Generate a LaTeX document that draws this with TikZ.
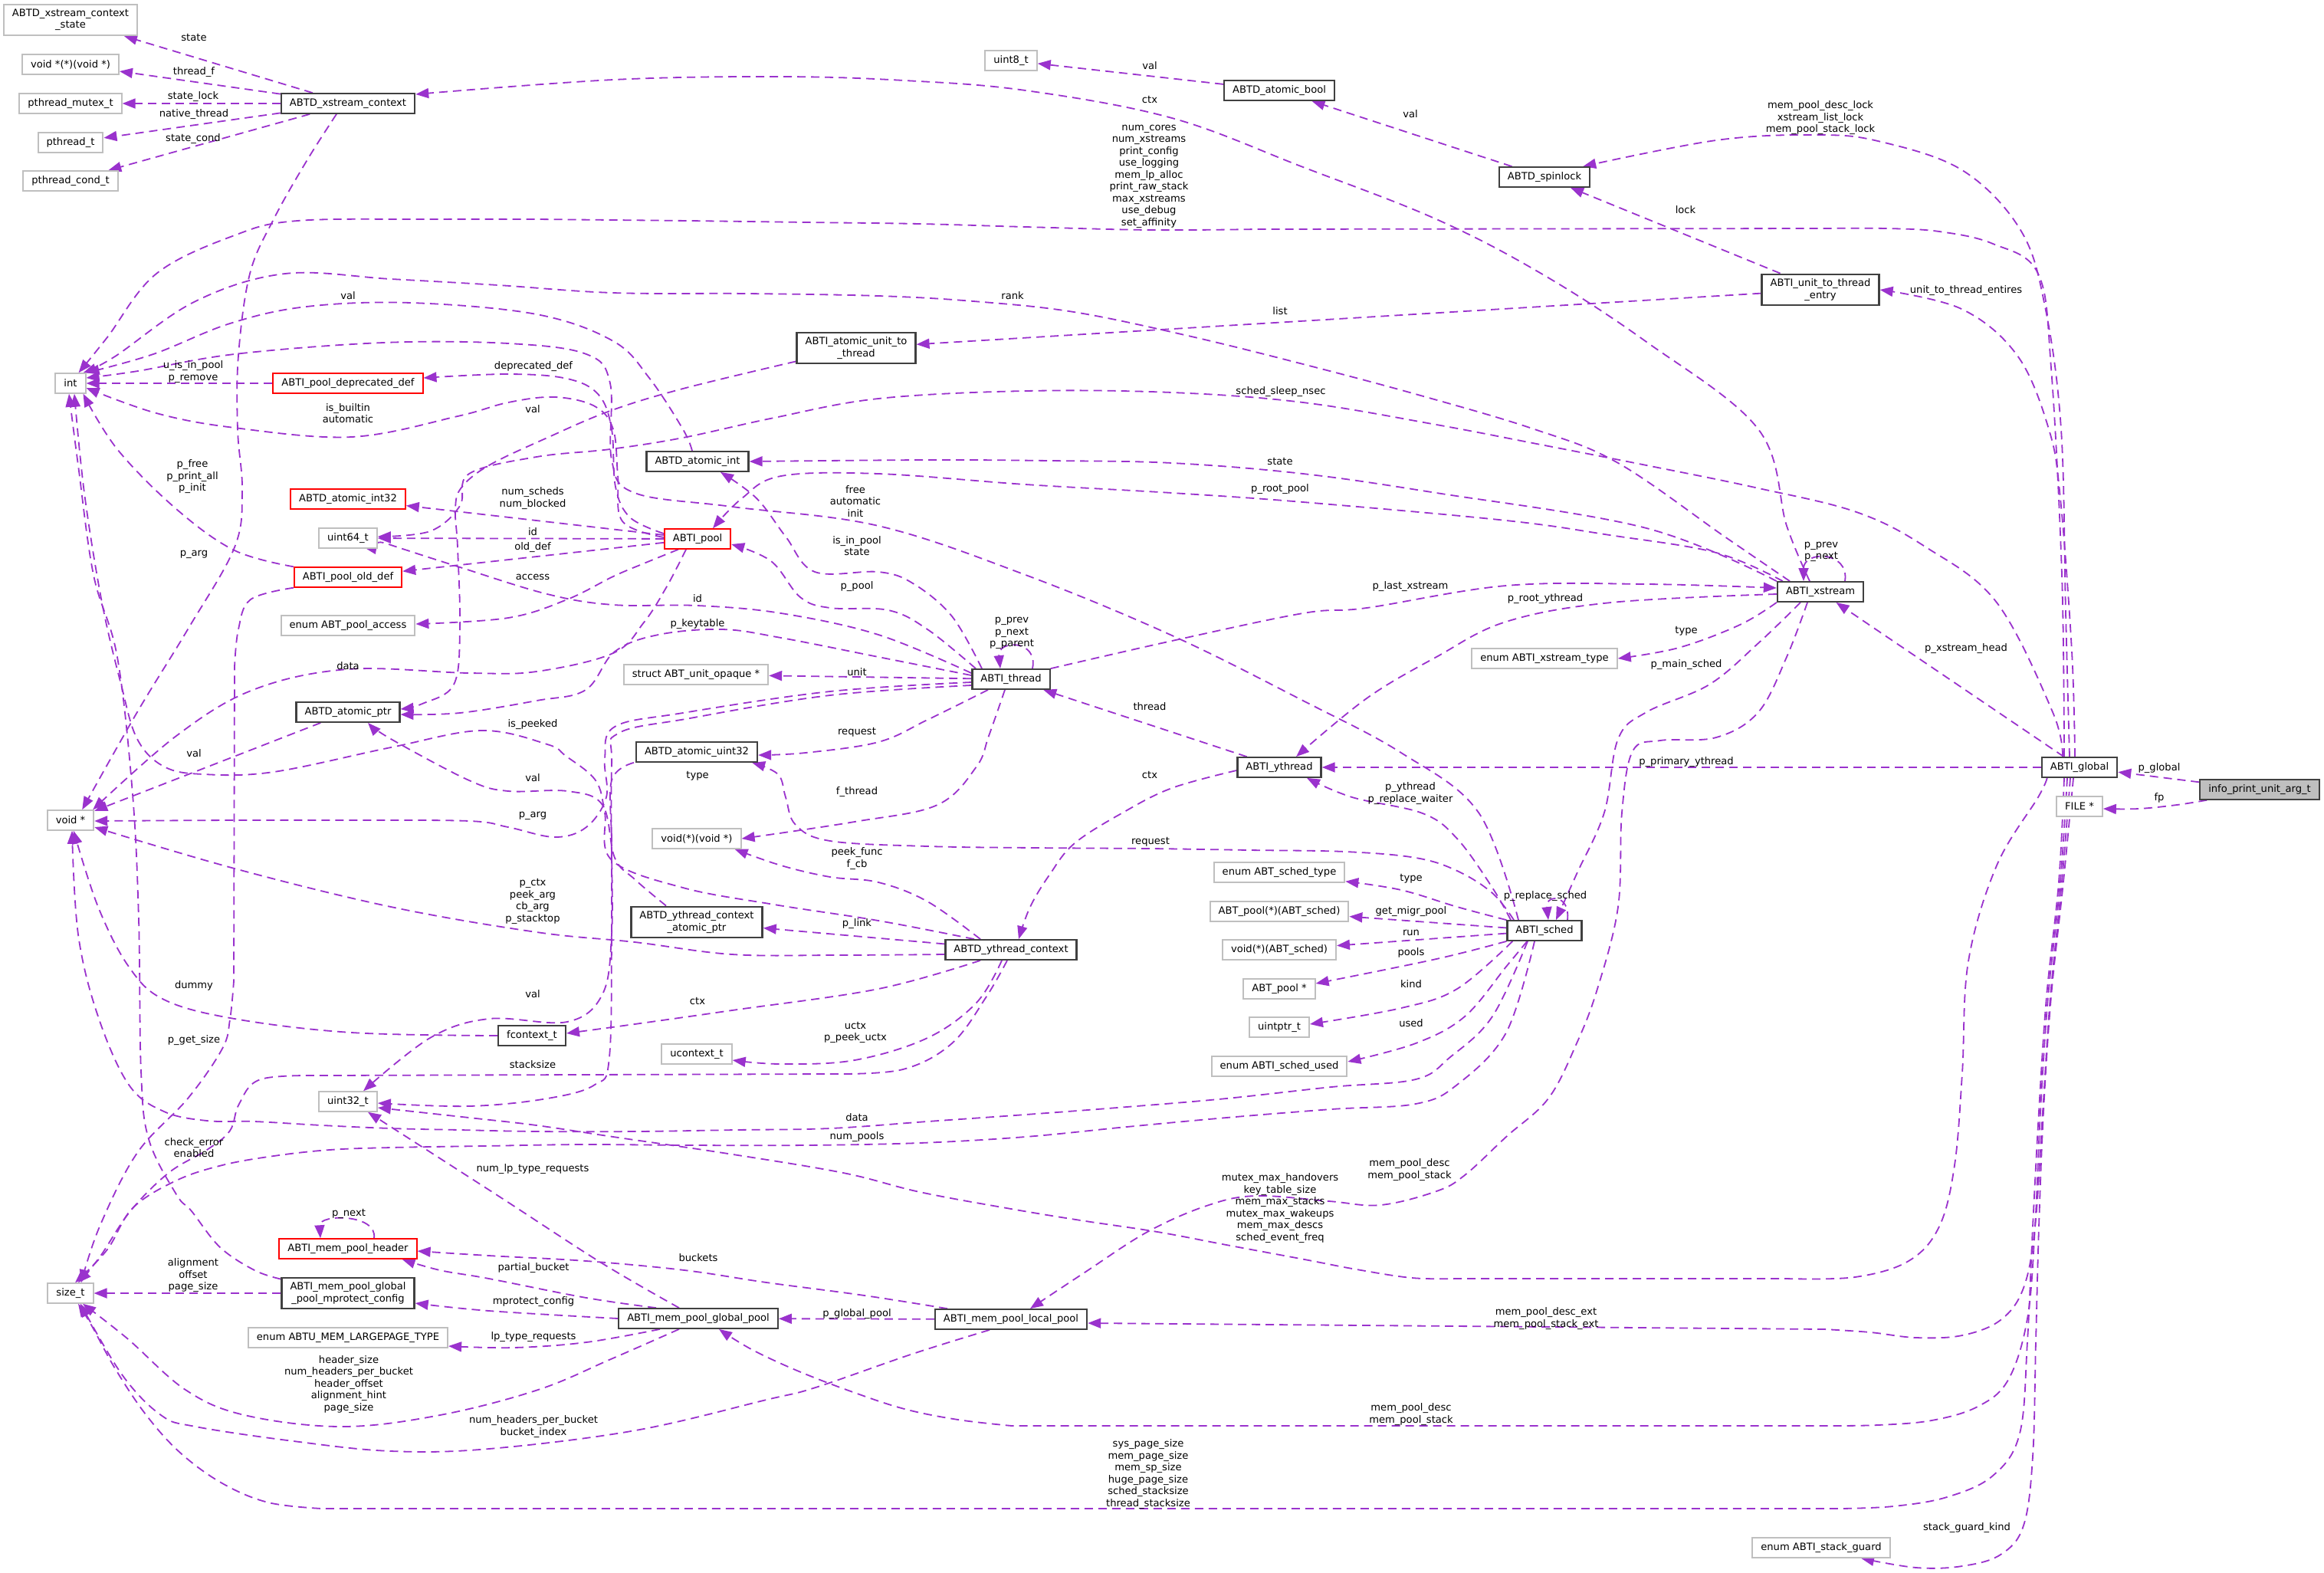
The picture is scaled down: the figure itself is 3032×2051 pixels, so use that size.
\documentclass[tikz,border=0pt]{standalone}
\usepackage{fontspec}
\setmainfont{DejaVu Sans}
\usetikzlibrary{arrows.meta, backgrounds}
\definecolor{edgePurple}{HTML}{9A32CD}
\definecolor{boxGray}{HTML}{BFBFBF}
\definecolor{boxRed}{HTML}{FF0000}
\definecolor{rootGray}{HTML}{BFBFBF}
\newcommand\dxsize{\fontsize{13.1pt}{15.5pt}\selectfont}

\begin{document}
\begin{tikzpicture}[
    x=1pt, y=-1pt,
    anybox/.style={rectangle, line width=2pt, inner xsep=11pt, inner ysep=6pt,
                   minimum height=25.5pt, align=center, fill=white, font=\dxsize},
    typebox/.style={anybox, draw=boxGray},
    classbox/.style={anybox, draw=black!75, line width=2.3pt},
    redbox/.style={anybox, draw=boxRed},
    rootbox/.style={anybox, draw=black!75, fill=rootGray},
    memlbl/.style={inner sep=0pt, align=center, font=\dxsize},
    member/.style={draw=edgePurple, line width=1.8pt, dash pattern=on 11pt off 7pt,
                   -{Triangle[length=17pt, width=13pt]}, smooth, tension=0.6},
  ]
  \useasboundingbox (0,0) rectangle (3032,2051);

  % column 1
  \node[typebox] (xcs) at (92,26)   {ABTD\_xstream\_context\\\_state};
  \node[typebox] (vff) at (92,84)   {void *(*)(void *)};
  \node[typebox] (ptm) at (92,135)  {pthread\_mutex\_t};
  \node[typebox] (pt)  at (92,186)  {pthread\_t};
  \node[typebox] (ptc) at (92,236)  {pthread\_cond\_t};
  \node[typebox] (int) at (92,500)  {int};
  \node[typebox] (vp)  at (92,1070) {void *};
  \node[typebox] (szt) at (92,1687) {size\_t};

  % column 2
  \node[classbox] (xc)     at (454,135)  {ABTD\_xstream\_context};
  \node[redbox]   (pdd)    at (454,500)  {ABTI\_pool\_deprecated\_def};
  \node[redbox]   (aint32) at (454,651)  {ABTD\_atomic\_int32};
  \node[typebox]  (u64)    at (454,702)  {uint64\_t};
  \node[redbox]   (pod)    at (454,753)  {ABTI\_pool\_old\_def};
  \node[typebox]  (epa)    at (454,816)  {enum ABT\_pool\_access};
  \node[classbox] (aptr)   at (454,929)  {ABTD\_atomic\_ptr};
  \node[classbox] (fctx)   at (694,1351) {fcontext\_t};
  \node[typebox]  (u32)    at (454,1437) {uint32\_t};
  \node[redbox]   (mph)    at (454,1629) {ABTI\_mem\_pool\_header};
  \node[classbox] (mpc)    at (454,1687) {ABTI\_mem\_pool\_global\\\_pool\_mprotect\_config};
  \node[typebox]  (elp)    at (454,1745) {enum ABTU\_MEM\_LARGEPAGE\_TYPE};

  % column 3
  \node[classbox] (aint) at (910,602)  {ABTD\_atomic\_int};
  \node[redbox]   (pool) at (910,703)  {ABTI\_pool};
  \node[typebox]  (suo)  at (908,880)  {struct ABT\_unit\_opaque *};
  \node[classbox] (au32) at (909,981)  {ABTD\_atomic\_uint32};
  \node[typebox]  (vfv)  at (909,1094) {void(*)(void *)};
  \node[classbox] (yca)  at (909,1203) {ABTD\_ythread\_context\\\_atomic\_ptr};
  \node[typebox]  (uctx) at (909,1375) {ucontext\_t};
  \node[classbox] (mgp)  at (911,1720) {ABTI\_mem\_pool\_global\_pool};

  % column 4
  \node[typebox]  (u8)   at (1319,79)   {uint8\_t};
  \node[classbox] (autt) at (1117,454)  {ABTI\_atomic\_unit\_to\\\_thread};
  \node[classbox] (thr)  at (1319,886)  {ABTI\_thread};
  \node[classbox] (yctx) at (1319,1239) {ABTD\_ythread\_context};
  \node[classbox] (mlp)  at (1319,1721) {ABTI\_mem\_pool\_local\_pool};

  % column 5
  \node[classbox] (abool) at (1669,118)  {ABTD\_atomic\_bool};
  \node[classbox] (yth)   at (1669,1001) {ABTI\_ythread};
  \node[typebox]  (est)   at (1669,1138) {enum ABT\_sched\_type};
  \node[typebox]  (pfs)   at (1669,1189) {ABT\_pool(*)(ABT\_sched)};
  \node[typebox]  (vfs)   at (1669,1239) {void(*)(ABT\_sched)};
  \node[typebox]  (ppool) at (1669,1290) {ABT\_pool *};
  \node[typebox]  (uptr)  at (1669,1340) {uintptr\_t};
  \node[typebox]  (esu)   at (1669,1391) {enum ABTI\_sched\_used};

  % columns 6 to 9
  \node[classbox] (spin)  at (2015,231)  {ABTD\_spinlock};
  \node[typebox]  (ext)   at (2015,859)  {enum ABTI\_xstream\_type};
  \node[classbox] (sched) at (2015,1214) {ABTI\_sched};
  \node[classbox] (utte)  at (2375,378)  {ABTI\_unit\_to\_thread\\\_entry};
  \node[classbox] (xs)    at (2375,772)  {ABTI\_xstream};
  \node[typebox]  (esg)   at (2376,2019) {enum ABTI\_stack\_guard};
  \node[classbox] (glob)  at (2713,1001) {ABTI\_global};
  \node[typebox]  (file)  at (2713,1052) {FILE *};
  \node[rootbox]  (info)  at (2948,1030) {info\_print\_unit\_arg\_t};

  \begin{scope}[on background layer]
    % ABTD_xstream_context
    \draw[member] (xc) -- (xcs);
    \draw[member] (xc) -- (vff);
    \draw[member] (xc) -- (ptm);
    \draw[member] (xc) -- (pt);
    \draw[member] (xc) -- (ptc);
    \draw[member] plot coordinates {([xshift=-15pt]xc.south) (400,210) (357,286) (326,357) (311,464) (310,560) (316,640) (306,714) (245,821) (179,929) ([xshift=-16pt]vp.north east)};

    % small structs
    \draw[member] (pdd) -- (int);
    \draw[member] (abool) -- (u8);
    \draw[member] (spin) -- (abool);
    \draw[member] (utte) -- (spin);
    \draw[member] (utte) -- (autt);
    \draw[member] (aptr) -- (vp);
    \draw[member] plot coordinates {([xshift=-7pt]aint.north) (891,560) (847,493) (800,445) (700,410) (536,395) (400,400) (300,422) (200,462) (int.north east)};
    \draw[member] plot coordinates {([yshift=4pt]autt.south west) (891,507) (796,536) (714,571) (638,607) (602,636) (594,664) (597,714) (600,821) (592,893) (551,918) ([yshift=4pt]aptr.east)};
    \draw[member] plot coordinates {([xshift=-40pt]yca.north) (828,1147) (802,1119) (786,1050) (740,1032) (663,1032) (612,1018) (510,964) ([xshift=26pt]aptr.south)};
    \draw[member] plot coordinates {([xshift=-2pt]au32.south west) (798,1018) (798,1100) (798,1219) (786,1297) (740,1333) (638,1329) (561,1354) ([xshift=20pt]u32.north)};
    \draw[member] plot coordinates {(fctx.west) (459,1347) (306,1329) (214,1304) (168,1261) (128,1183) ([xshift=4pt]vp.south)};

    % ABTI_pool
    \draw[member] plot coordinates {([yshift=7pt]pool.west) (822,675) (803,635) (798,560) (781,515) (740,494) (663,488) ([yshift=7pt]pdd.east)};
    \draw[member] plot coordinates {([yshift=2pt]pool.west) (812,680) (806,620) (800,560) (776,530) (724,518) (663,525) (597,543) (459,570) (306,558) (204,539) ([yshift=-6pt]int.east)};
    \draw[member] (pool) -- (aint32);
    \draw[member] (pool) -- (u64);
    \draw[member] (pool) -- (pod);
    \draw[member] plot coordinates {([xshift=-25pt]pool.south) (840,735) (800,752) (740,782) (663,806) ([yshift=2pt]epa.east)};
    \draw[member] plot coordinates {([xshift=-15pt]pool.south) (870,765) (840,812) (800,852) (700,876) (612,878) (454,873) (330,900) (230,960) ([xshift=-2pt]vp.north east)};
    \draw[member] plot coordinates {(pod.north west) (306,718) (230,664) (153,586) ([xshift=-4pt]int.south east)};
    \draw[member] plot coordinates {(pod.south west) (327,782) (311,821) (306,870)}
      -- plot coordinates {(305,1280) (300,1330) (290,1368) (245,1433) (179,1504) (130,1600) ([xshift=14pt]szt.north)};

    % ABTI_thread
    \draw[member] plot coordinates {(thr.north east) (1529,836) (1700,800) (1783,793) (1965,764) (2148,762) ([yshift=5pt]xs.west)};
    \draw[member] ([xshift=28pt]thr.north) .. controls +(8,-38) and +(-4,-38) .. ([xshift=-14pt]thr.north);
    \draw[member] plot coordinates {([xshift=-38pt]thr.north) (1242,804) (1191,761) (1146,746) (1063,746) (1025,700) (987,650) ([xshift=30pt]aint.south)};
    \draw[member] plot coordinates {([xshift=-46pt]thr.north) (1210,821) (1159,796) (1083,793) (1044,779) (1006,732) ([yshift=-7pt]pool.east)};
    \draw[member] plot coordinates {([yshift=8pt]thr.west) (1146,828) (1019,800) (910,790) (800,789) (714,775) (597,739) (510,711) ([yshift=-3pt]u64.east)};
    \draw[member] plot coordinates {([yshift=5pt]thr.west) (1146,857) (1019,832) (942,821) (859,828) (802,850) (764,900) (700,914) (600,930) ([yshift=-3pt]aptr.east)};
    \draw[member] (thr) -- (suo);
    \draw[member] plot coordinates {([yshift=-4pt]thr.west) (1083,902) (891,930) (802,948) (789,990) (791,1040) (765,1079) (724,1092) (663,1079) (612,1071) (460,1070) (306,1070) ([yshift=-1pt]vp.east)};
    \draw[member] plot coordinates {([yshift=-8pt]thr.west) (1083,907) (900,937) (806,957) (798,1000) (798,1200) (795,1379) (776,1415) (714,1433) (612,1443) ([yshift=-2pt]u32.east)};
    \draw[member] plot coordinates {([xshift=-30pt]thr.south) (1210,939) (1146,968) (1051,982) ([yshift=-4pt]au32.east)};
    \draw[member] plot coordinates {([xshift=-8pt]thr.south) (1290,960) (1274,1000) (1223,1050) (1115,1072) (vfv.east)};

    % ABTI_ythread and its context
    \draw[member] (yth) -- (thr);
    \draw[member] plot coordinates {([yshift=-4pt]yth.west) (1529,1028) (1465,1060) (1402,1100) (1370,1140) (1344,1183) ([xshift=10pt]yctx.north)};
    \draw[member] plot coordinates {([xshift=-40pt]yctx.north) (1210,1176) (1146,1151) (1083,1144) (1019,1129) ([xshift=-9pt]vfv.south east)};
    \draw[member] plot coordinates {([xshift=-48pt]yctx.north) (1146,1201) (1010,1180) (891,1158) (798,1122) (789,1060) (777,1018) (738,986) (714,971) (628,953) (510,975) (357,1007) (265,1010) (214,1000) (179,964) (158,893) (133,786) (110,643) ([xshift=5pt]int.south)};
    \draw[member] (yctx) -- (yca);
    \draw[member] plot coordinates {([yshift=-6pt]yctx.west) (1090,1246) (955,1245) (828,1229) (700,1216) (510,1183) (306,1133) ([yshift=-9pt]vp.east)};
    \draw[member] plot coordinates {([xshift=-40pt]yctx.south) (1146,1290) (955,1318) (828,1336) ([yshift=3pt]fctx.east)};
    \draw[member] plot coordinates {([xshift=-12pt]yctx.south) (1274,1308) (1210,1354) (1115,1383) (1019,1388) ([yshift=-8pt]uctx.east)};
    \draw[member] plot coordinates {([xshift=-5pt]yctx.south) (1287,1300) (1242,1361) (1178,1395) (1090,1401)}
      -- plot coordinates {(420,1403) (340,1408) (312,1440) (300,1475) (270,1500) (220,1530) (170,1580) (130,1640) ([xshift=10pt]szt.north)};

    % ABTI_xstream
    \draw[member] plot coordinates {([xshift=-40pt]xs.north) (2250,700) (2111,604) (2002,560) (1850,515) (1700,475) (1550,438) (1401,407) (1270,393) (1146,386) (975,383) (800,382) (650,372) (510,364) (372,357) (255,393) (150,465) ([xshift=-4pt]int.north east)};
    \draw[member] plot coordinates {([xshift=-14pt]xs.north) (2331,686) (2294,560) (2148,446) (2011,357) (1874,286) (1700,218) (1529,154) (1338,118) (1180,105) (1019,100) (800,104) ([yshift=12pt]xc.east)};
    \draw[member] ([xshift=32pt]xs.north) .. controls +(6,-40) and +(0,-40) .. ([xshift=-22pt]xs.north);
    \draw[member] plot coordinates {(xs.north west) (2148,689) (1874,643) (1700,618) (1529,604) (1370,601) (1210,600) (aint.east)};
    \draw[member] plot coordinates {([xshift=8pt]xs.north west) (2239,721) (2100,698) (1965,679) (1700,655) (1529,643) (1338,632) (1146,618) (1019,621) (968,650) ([xshift=20pt]pool.north)};
    \draw[member] plot coordinates {(xs.south west) (2270,815) (2190,845) (ext.east)};
    \draw[member] plot coordinates {([yshift=-3pt]xs.west) (2102,786) (1965,811) (1874,857) (1783,911) ([xshift=22pt]yth.north)};
    \draw[member] plot coordinates {([xshift=-26pt]xs.south) (2294,839) (2230,893) (2148,929) (2111,964) (2093,1060) (2057,1140) ([xshift=15pt]sched.north)};
    \draw[member] plot coordinates {([xshift=-17pt]xs.south) (2331,857) (2294,929) (2239,962) (2166,966) (2130,980) (2116,1060) (2111,1183) (2084,1290) (2057,1361) (2020,1433) (1965,1483) (1911,1533) (1874,1554) (1801,1572) (1734,1567) (1638,1560) (1574,1573) (1497,1607) (1415,1660) ([xshift=25pt]mlp.north)};

    % ABTI_sched
    \draw[member] ([xshift=30pt]sched.north) .. controls +(4,-34) and +(-4,-34) .. ([xshift=5pt]sched.north);
    \draw[member] plot coordinates {([xshift=-34pt]sched.north) (1929,1060) (1828,982) (1700,914) (1529,829) (1338,750) (1146,686) (955,661) (828,643) (798,600) (796,500) (765,462) (663,448) (500,447) (306,462) (180,484) ([yshift=7pt]int.east)};
    \draw[member] plot coordinates {([xshift=-40pt]sched.north) (1947,1165) (1901,1136) (1847,1119) (1755,1111) (1630,1109) (1501,1107) (1350,1106) (1210,1104) (1083,1097) (1038,1076) (1025,1040) (1015,1010) ([xshift=-8pt]au32.south east)};
    \draw[member] plot coordinates {([xshift=-44pt]sched.north) (1947,1158) (1901,1094) (1856,1061) (1764,1040) ([xshift=36pt]yth.south)};
    \draw[member] plot coordinates {(sched.north west) (1901,1183) (1828,1161) ([yshift=2pt]est.south east)};
    \draw[member] (sched) -- (pfs);
    \draw[member] (sched) -- (vfs);
    \draw[member] plot coordinates {(sched.south west) (1874,1251) ([yshift=7pt]ppool.east)};
    \draw[member] plot coordinates {([xshift=8pt]sched.south west) (1901,1290) (1828,1315) ([yshift=4pt]uptr.east)};
    \draw[member] plot coordinates {([xshift=27pt]sched.south west) (1965,1261) (1911,1326) (1847,1361) ([yshift=6pt]esu.east)};
    \draw[member] plot coordinates {([xshift=-22pt]sched.south) (1947,1326) (1892,1379) (1847,1408) (1737,1418) (1600,1433) (1470,1444) (1338,1454) (1210,1463) (1083,1472) (960,1474) (830,1476) (700,1476) (600,1474) (510,1472) (420,1468) (332,1463) (270,1462) (214,1450) (168,1415) (128,1326) (102,1219) ([xshift=2pt]vp.south)};
    \draw[member] plot coordinates {([xshift=-13pt]sched.south) (1965,1347) (1901,1415) (1847,1440) (1737,1447) (1600,1458) (1470,1470) (1338,1483) (1200,1491) (1050,1494) (900,1494) (760,1493) (630,1495) (510,1497) (430,1500) (357,1508) (290,1520) (230,1540) (173,1576) (140,1630) ([xshift=6pt]szt.north)};

    % ABTI_global
    \draw[member] (info) -- (glob);
    \draw[member] plot coordinates {([xshift=10pt]info.south west) (2840,1050) (2790,1055) ([yshift=-3pt]file.east)};
    \draw[member] (glob) -- (xs);
    \draw[member] (glob) -- (yth);
    \draw[member] plot coordinates {([xshift=-13pt]glob.north) (2695,800) (2689,560) (2668,400) (2636,300) (2560,222) (2450,184) (2367,176) (2239,183) ([xshift=-10pt]spin.north east)};
    \draw[member] plot coordinates {([xshift=-6pt]glob.north) (2703,850) (2688,650) (2673,560) (2632,464) (2559,403) (utte.east)};
    \draw[member] plot coordinates {([xshift=-20pt]glob.north) (2690,750) (2676,480) (2659,357) (2600,318) (2530,302) (2460,298) (2380,298)}
      -- plot coordinates {(1640,299) (1500,300) (1338,296) (1200,292) (1050,290) (900,288)}
      -- plot coordinates {(700,286) (560,286) (388,288) (306,307) (204,357) (140,440) ([xshift=-10pt]int.north east)};
    \draw[member] plot coordinates {([xshift=-22pt]glob.north) (2678,929) (2605,786) (2513,714) (2422,668) (2290,636) (2148,607) (2010,580) (1874,554) (1700,525) (1529,512) (1338,510) (1146,520) (1010,545) (891,571) (796,586) (700,596) (612,618) (600,660) (561,693) ([yshift=2pt]u64.east)};
    \draw[member] plot coordinates {([xshift=8pt]glob.south west) (2659,1040) (2605,1129) (2568,1254) (2560,1400) (2550,1520) (2530,1600) (2490,1645) (2420,1666) (2330,1668)}
      -- plot coordinates {(1900,1668) (1842,1667) (1770,1656) (1702,1643) (1600,1624) (1510,1607) (1410,1592) (1319,1577) (1200,1555) (1100,1530) (950,1505) (800,1483) (700,1468) (612,1458) ([yshift=-8pt]u32.east)};
    \draw[member] plot coordinates {([xshift=-12pt]glob.south) (2690,1150) (2675,1300) (2665,1450) (2655,1600) (2640,1680) (2610,1722) (2560,1742) (2500,1745) (2440,1738) (2380,1734)}
      -- ([yshift=-5pt]mlp.east);
    \draw[member] plot coordinates {([xshift=-16pt]glob.south) (2688,1150) (2672,1300) (2662,1450) (2655,1600) (2645,1720) (2620,1800) (2580,1835) (2520,1853) (2450,1859) (2380,1860)}
      -- plot coordinates {(1320,1860) (1250,1852) (1180,1838) (1110,1815) (1040,1788) (980,1760) ([xshift=27pt]mgp.south)};
    \draw[member] plot coordinates {([xshift=-20pt]glob.south) (2686,1150) (2670,1300) (2660,1450) (2652,1600) (2645,1750) (2635,1870) (2600,1925) (2540,1953) (2470,1965) (2400,1968)}
      -- plot coordinates {(420,1968) (350,1960) (290,1935) (235,1895) (190,1845) (150,1785) (120,1730) ([xshift=10pt]szt.south)};
    \draw[member] plot coordinates {([xshift=-8pt]glob.south) (2692,1150) (2676,1300) (2666,1450) (2660,1600) (2656,1750) (2652,1900) (2640,1990) (2610,2028) (2560,2043) (2500,2045) ([xshift=52pt]esg.south)};

    % memory pools
    \draw[member] (mlp) -- (mgp);
    \draw[member] plot coordinates {([xshift=-83pt]mlp.north) (1128,1690) (1000,1673) (893,1657) (765,1645) (638,1638) ([yshift=-3pt]mph.east)};
    \draw[member] plot coordinates {([xshift=-28pt]mlp.south) (1191,1766) (1064,1810) (1000,1826) (829,1866) (638,1890) (510,1893) (383,1880) (255,1861) (210,1846) (159,1793) ([xshift=13pt]szt.south)};
    \draw[member] plot coordinates {([xshift=-55pt]mgp.north) (765,1693) (638,1668) (574,1657) ([xshift=-20pt]mph.south east)};
    \draw[member] plot coordinates {(mgp.west) (638,1710) ([yshift=-13pt]mpc.east)};
    \draw[member] plot coordinates {([xshift=-50pt]mgp.south) (765,1751) (670,1758) ([yshift=-11pt]elp.east)};
    \draw[member] plot coordinates {([xshift=-25pt]mgp.south) (797,1773) (702,1813) (574,1846) (446,1861) (319,1846) (242,1813) (166,1746) ([xshift=16pt]szt.south)};
    \draw[member] plot coordinates {([xshift=-25pt]mgp.north) (784,1647) (650,1560) ([xshift=26pt]u32.south)};
    \draw[member] ([xshift=34pt]mph.north) .. controls +(5,-32) and +(-2,-32) .. ([xshift=-36pt]mph.north);
    \draw[member] (mpc) -- (szt);
    \draw[member] plot coordinates {([yshift=-3pt]mpc.north west) (332,1657) (287,1627) (250,1580) (230,1558) (194,1486) (184,1397) (181,1200) (173,1036) (153,857) (122,750) (102,607) ([xshift=-2pt]int.south)};
  \end{scope}

  % member labels
  \node[memlbl] (l1)  at (253,49)   {state};
  \node[memlbl] (l2)  at (253,94)   {thread\_f};
  \node[memlbl] (l3)  at (252,126)  {state\_lock};
  \node[memlbl] (l4)  at (253,149)  {native\_thread};
  \node[memlbl] (l5)  at (252,181)  {state\_cond};
  \node[memlbl] (l6)  at (1500,86)  {val};
  \node[memlbl] (l7)  at (1500,130) {ctx};
  \node[memlbl] (l8)  at (1840,149) {val};
  \node[memlbl] (l9)  at (2375,154) {mem\_pool\_desc\_lock\\xstream\_list\_lock\\mem\_pool\_stack\_lock};
  \node[memlbl] (l10) at (1499,230) {num\_cores\\num\_xstreams\\print\_config\\use\_logging\\mem\_lp\_alloc\\print\_raw\_stack\\max\_xstreams\\use\_debug\\set\_affinity};
  \node[memlbl] (l11) at (2199,274) {lock};
  \node[memlbl] (l12) at (2565,379) {unit\_to\_thread\_entires};
  \node[memlbl] (l13) at (1321,386) {rank};
  \node[memlbl] (l14) at (1670,406) {list};
  \node[memlbl] (l15) at (454,386)  {val};
  \node[memlbl] (l16) at (252,485)  {u\_is\_in\_pool\\p\_remove};
  \node[memlbl] (l17) at (696,478)  {deprecated\_def};
  \node[memlbl] (l18) at (1671,511) {sched\_sleep\_nsec};
  \node[memlbl] (l19) at (454,539)  {is\_builtin\\automatic};
  \node[memlbl] (l20) at (695,534)  {val};
  \node[memlbl] (l21) at (1670,602) {state};
  \node[memlbl] (l22) at (251,622)  {p\_free\\p\_print\_all\\p\_init};
  \node[memlbl] (l23) at (1670,638) {p\_root\_pool};
  \node[memlbl] (l24) at (1116,654) {free\\automatic\\init};
  \node[memlbl] (l25) at (695,650)  {num\_scheds\\num\_blocked};
  \node[memlbl] (l26) at (695,694)  {id};
  \node[memlbl] (l27) at (1118,712) {is\_in\_pool\\state};
  \node[memlbl] (l28) at (695,714)  {old\_def};
  \node[memlbl] (l29) at (2376,720) {p\_prev\\p\_next};
  \node[memlbl] (l30) at (253,723)  {p\_arg};
  \node[memlbl] (l31) at (695,753)  {access};
  \node[memlbl] (l32) at (1118,765) {p\_pool};
  \node[memlbl] (l33) at (1840,765) {p\_last\_xstream};
  \node[memlbl] (l34) at (910,781)  {id};
  \node[memlbl] (l35) at (2016,781) {p\_root\_ythread};
  \node[memlbl] (l36) at (910,814)  {p\_keytable};
  \node[memlbl] (l37) at (1320,826) {p\_prev\\p\_next\\p\_parent};
  \node[memlbl] (l38) at (2200,823) {type};
  \node[memlbl] (l39) at (2565,846) {p\_xstream\_head};
  \node[memlbl] (l40) at (2200,867) {p\_main\_sched};
  \node[memlbl] (l41) at (454,869)  {data};
  \node[memlbl] (l42) at (1118,877) {unit};
  \node[memlbl] (l43) at (1500,922) {thread};
  \node[memlbl] (l44) at (695,945)  {is\_peeked};
  \node[memlbl] (l45) at (1118,955) {request};
  \node[memlbl] (l46) at (253,983)  {val};
  \node[memlbl] (l47) at (910,1012) {type};
  \node[memlbl] (l48) at (1500,1011) {ctx};
  \node[memlbl] (l49) at (695,1015) {val};
  \node[memlbl] (l50) at (2200,994) {p\_primary\_ythread};
  \node[memlbl] (l51) at (2817,1002) {p\_global};
  \node[memlbl] (l52) at (1118,1033) {f\_thread};
  \node[memlbl] (l53) at (1840,1035) {p\_ythread\\p\_replace\_waiter};
  \node[memlbl] (l54) at (2817,1041) {fp};
  \node[memlbl] (l55) at (695,1064) {p\_arg};
  \node[memlbl] (l56) at (1501,1098) {request};
  \node[memlbl] (l57) at (1118,1120) {peek\_func\\f\_cb};
  \node[memlbl] (l58) at (1841,1146) {type};
  \node[memlbl] (l59) at (695,1176) {p\_ctx\\peek\_arg\\cb\_arg\\p\_stacktop};
  \node[memlbl] (l60) at (2016,1169) {p\_replace\_sched};
  \node[memlbl] (l61) at (1841,1189) {get\_migr\_pool};
  \node[memlbl] (l62) at (1118,1205) {p\_link};
  \node[memlbl] (l63) at (1841,1217) {run};
  \node[memlbl] (l64) at (1841,1243) {pools};
  \node[memlbl] (l65) at (1841,1284) {kind};
  \node[memlbl] (l66) at (253,1286) {dummy};
  \node[memlbl] (l67) at (695,1297) {val};
  \node[memlbl] (l68) at (910,1306) {ctx};
  \node[memlbl] (l69) at (1841,1335) {used};
  \node[memlbl] (l70) at (1116,1347) {uctx\\p\_peek\_uctx};
  \node[memlbl] (l71) at (253,1357) {p\_get\_size};
  \node[memlbl] (l72) at (695,1389) {stacksize};
  \node[memlbl] (l73) at (1118,1458) {data};
  \node[memlbl] (l74) at (1118,1483) {num\_pools};
  \node[memlbl] (l75) at (253,1497) {check\_error\\enabled};
  \node[memlbl] (l76) at (1839,1526) {mem\_pool\_desc\\mem\_pool\_stack};
  \node[memlbl] (l77) at (695,1525) {num\_lp\_type\_requests};
  \node[memlbl] (l78) at (1670,1576) {mutex\_max\_handovers\\key\_table\_size\\mem\_max\_stacks\\mutex\_max\_wakeups\\mem\_max\_descs\\sched\_event\_freq};
  \node[memlbl] (l79) at (455,1583) {p\_next};
  \node[memlbl] (l80) at (911,1641) {buckets};
  \node[memlbl] (l81) at (252,1664) {alignment\\offset\\page\_size};
  \node[memlbl] (l82) at (696,1654) {partial\_bucket};
  \node[memlbl] (l83) at (696,1698) {mprotect\_config};
  \node[memlbl] (l84) at (1118,1714) {p\_global\_pool};
  \node[memlbl] (l85) at (2017,1720) {mem\_pool\_desc\_ext\\mem\_pool\_stack\_ext};
  \node[memlbl] (l86) at (696,1744) {lp\_type\_requests};
  \node[memlbl] (l87) at (455,1806) {header\_size\\num\_headers\_per\_bucket\\header\_offset\\alignment\_hint\\page\_size};
  \node[memlbl] (l88) at (696,1861) {num\_headers\_per\_bucket\\bucket\_index};
  \node[memlbl] (l89) at (1841,1845) {mem\_pool\_desc\\mem\_pool\_stack};
  \node[memlbl] (l90) at (1498,1923) {sys\_page\_size\\mem\_page\_size\\mem\_sp\_size\\huge\_page\_size\\sched\_stacksize\\thread\_stacksize};
  \node[memlbl] (l91) at (2566,1993) {stack\_guard\_kind};
\end{tikzpicture}
\end{document}
